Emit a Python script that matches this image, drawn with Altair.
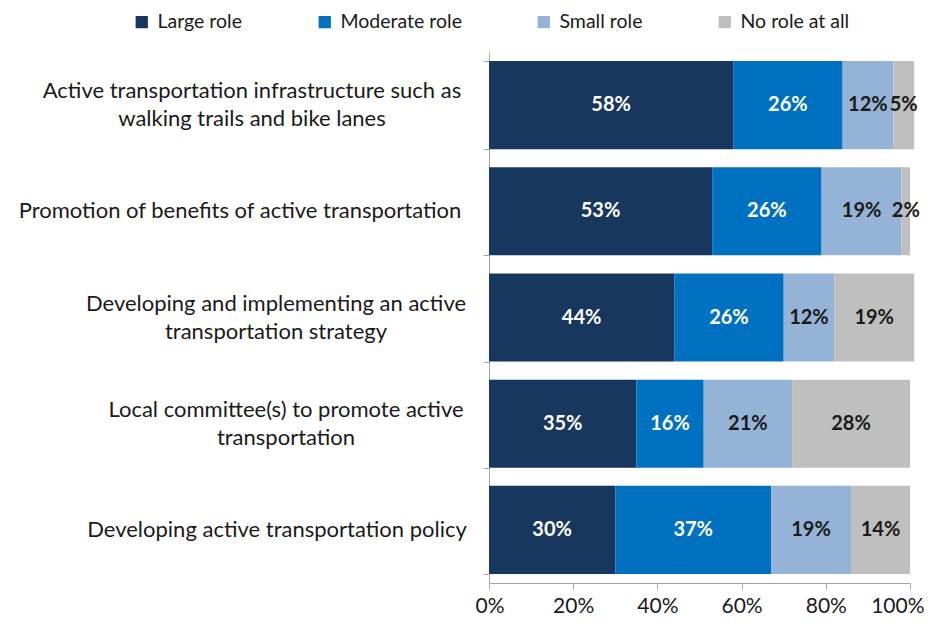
import altair as alt
import pandas as pd

categories = [
    "Active transportation infrastructure such as|walking trails and bike lanes",
    "Promotion of benefits of active transportation",
    "Developing and implementing an active|transportation strategy",
    "Local committee(s) to promote active|transportation",
    "Developing active transportation policy",
]
roles = ["Large role", "Moderate role", "Small role", "No role at all"]
large = [58, 53, 44, 35, 30]
moderate = [26, 26, 26, 16, 37]
small = [12, 19, 12, 21, 19]
no_role = [5, 2, 19, 28, 14]
colors = ["#17375E", "#0070C0", "#95B3D7", "#BFBFBF"]
x_ticks = [0, 20, 40, 60, 80, 100]

rows = []
for series_idx, (role, vals) in enumerate(zip(roles, [large, moderate, small, no_role])):
    for cat, v in zip(categories, vals):
        rows.append({"category": cat, "role": role, "value": v, "order": series_idx})
df = pd.DataFrame(rows)
cat_df = pd.DataFrame({"category": categories})

FONT = "Lato"

base = alt.Chart(df).transform_stack(
    stack="value",
    groupby=["category"],
    as_=["x0", "x1"],
    sort=[alt.SortField("order", order="ascending")],
).transform_calculate(mid="(datum.x0 + datum.x1) / 2")

y_enc = alt.Y(
    "category:N",
    sort=categories,
    title=None,
    scale=alt.Scale(paddingInner=0.17, paddingOuter=0.085),
    axis=alt.Axis(
        labels=False,
        tickBand="extent",
        tickSize=6,
        tickColor="#A6A6A6",
        domainColor="#A6A6A6",
        ticks=True,
        grid=False,
    ),
)

bars = base.mark_bar().encode(
    x=alt.X(
        "x0:Q",
        title=None,
        scale=alt.Scale(domain=[0, 100], nice=False, clamp=False),
        axis=alt.Axis(
            values=x_ticks,
            labelExpr="datum.value + '%'",
            labelFont=FONT,
            labelFontSize=21,
            labelColor="#1a1a1a",
            labelPadding=6,
            labelFlush=True,
            labelFlushOffset=14,
            tickSize=6,
            tickColor="#A6A6A6",
            domainColor="#A6A6A6",
            grid=False,
        ),
    ),
    x2="x1:Q",
    y=y_enc,
    color=alt.Color(
        "role:N",
        scale=alt.Scale(domain=roles, range=colors),
        sort=roles,
        legend=alt.Legend(
            title=None,
            orient="none",
            direction="horizontal",
            legendX=-357,
            legendY=-40,
            symbolType="square",
            symbolSize=150,
            symbolStrokeWidth=0,
            labelFont=FONT,
            labelFontSize=19.5,
            labelColor="#1a1a1a",
            labelOffset=6,
            columnPadding=72,
            labelLimit=300,
        ),
    ),
)

labels = base.mark_text(font=FONT, fontSize=20, fontWeight="bold").encode(
    x=alt.X("mid:Q"),
    y=alt.Y("category:N", sort=categories),
    text=alt.Text("label:N"),
    color=alt.condition(
        "datum.role == 'Large role' || datum.role == 'Moderate role'",
        alt.value("#ffffff"),
        alt.value("#1a1a1a"),
    ),
).transform_calculate(label="datum.value + '%'")

# category labels: each block centred on its own lines, right edge near the axis
label_centres = [-237, -249, -213, -203, -212]
cat_layers = []
for cat, cx in zip(categories, label_centres):
    n_lines = cat.count("|") + 1
    cat_layers.append(
        alt.Chart(cat_df)
        .transform_filter(alt.datum.category == cat)
        .mark_text(
            font=FONT,
            fontSize=22,
            color="#1a1a1a",
            align="center",
            baseline="middle",
            lineBreak="|",
            lineHeight=28,
            dy=-14 * (n_lines - 1),
        )
        .encode(
            x=alt.value(cx),
            y=alt.Y("category:N", sort=categories),
            text="category:N",
        )
    )

chart = (
    alt.layer(bars, labels, *cat_layers)
    .properties(
        width=421,
        height=531,
        autosize=alt.AutoSizeParams(type="none"),
        padding={"left": 481, "top": 44, "right": 16, "bottom": 38},
    )
    .configure_view(stroke=None)
)

chart.save("out.html", embed_options={"renderer": "svg", "actions": False})
